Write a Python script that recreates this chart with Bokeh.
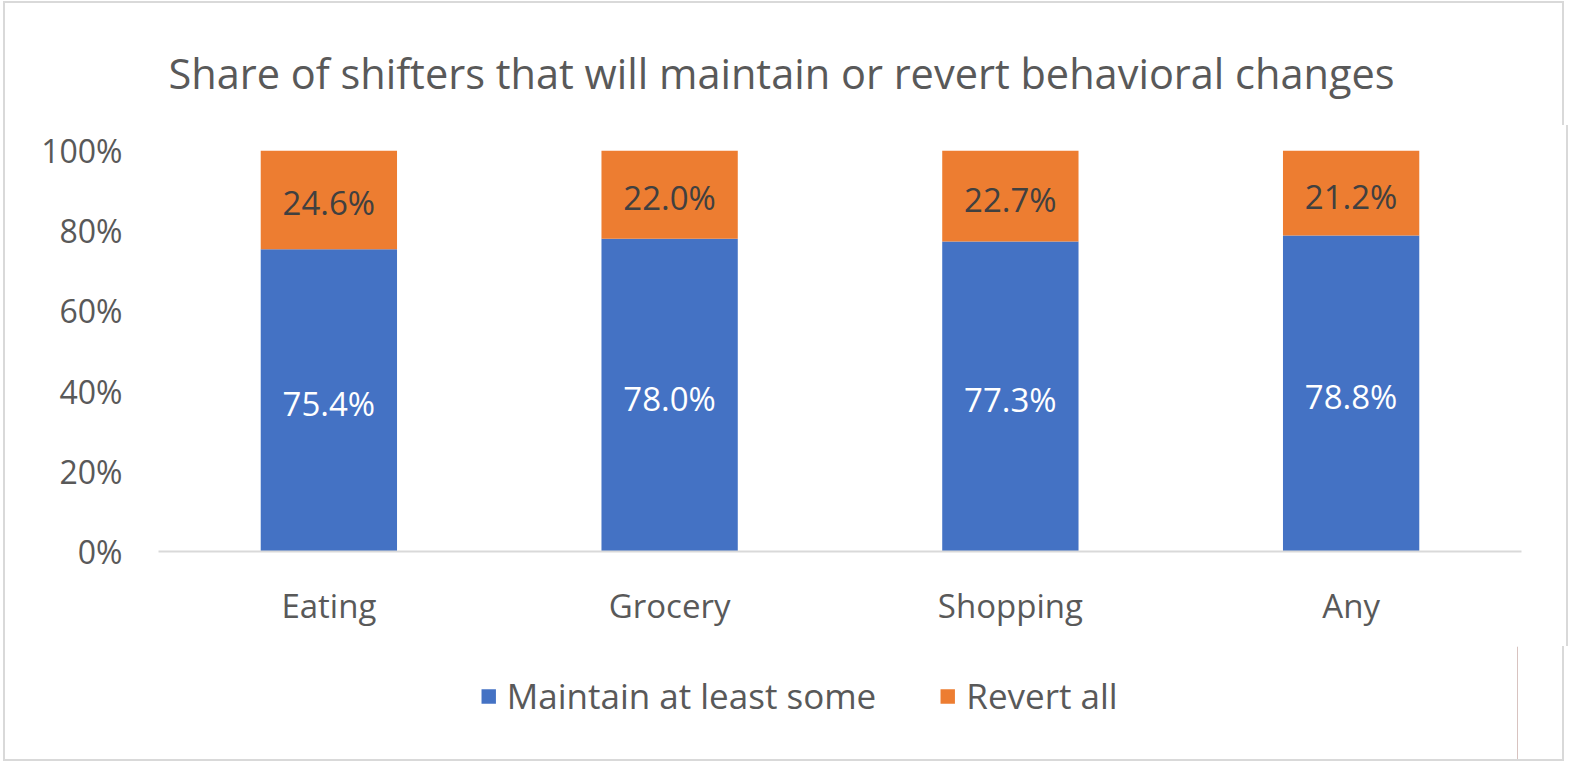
from bokeh.plotting import figure
from bokeh.layouts import column
from bokeh.models import ColumnDataSource, LabelSet, Label, Legend, LegendItem, FixedTicker, Range1d
from bokeh.embed import file_html
from bokeh.resources import INLINE
from bokeh.core.properties import value

categories = ["Eating", "Grocery", "Shopping", "Any"]
maintain = [75.4, 78.0, 77.3, 78.8]
revert = [24.6, 22.0, 22.7, 21.2]
series_names = ["Maintain at least some", "Revert all"]
title_text = "Share of shifters that will maintain or revert behavioral changes"
y_ticks = [0, 20, 40, 60, 80, 100]

FONT = "Open Sans"
GRAY = "#595959"
BLUE = "#4472C4"
ORANGE = "#ED7D31"
BORDER = "2px solid #d9d9d9"
W = 1561

src = ColumnDataSource(dict(
    cat=categories,
    maintain=maintain,
    revert=revert,
    top_all=[m + r for m, r in zip(maintain, revert)],
    mid_m=[m / 2 for m in maintain],
    mid_r=[m + r / 2 for m, r in zip(maintain, revert)],
    lab_m=[f"{m:.1f}%" for m in maintain],
    lab_r=[f"{r:.1f}%" for r in revert],
))


def bare(fig):
    fig.axis.visible = False
    fig.xgrid.grid_line_color = None
    fig.ygrid.grid_line_color = None
    fig.outline_line_color = None


# ---- title strip ----
tf = figure(width=W, height=124, x_range=Range1d(0, 1), y_range=Range1d(0, 1),
            output_backend="svg", toolbar_location=None,
            min_border_left=0, min_border_right=0, min_border_top=0, min_border_bottom=0)
bare(tf)
tf.styles = {"border": BORDER, "border-bottom": "none", "margin-left": "3px", "margin-top": "1px"}
tf.add_layout(Label(x=623, y=55, x_units="screen", y_units="screen", text=title_text,
                    text_align="center", text_baseline="middle", text_font_size="41.5px",
                    text_font=FONT, text_color=GRAY))

# ---- main chart ----
p = figure(x_range=categories, y_range=Range1d(0, 100), frame_width=1359, frame_height=401,
           output_backend="svg", toolbar_location=None,
           min_border_left=153, min_border_right=49, min_border_top=25, min_border_bottom=95)
p.styles = {"border-left": BORDER, "border-right": BORDER, "margin-left": "3px"}
p.outline_line_color = None
p.xgrid.grid_line_color = None
p.ygrid.grid_line_color = None

p.vbar(x="cat", bottom=0, top="maintain", width=0.4, source=src, fill_color=BLUE, line_color=None)
p.vbar(x="cat", bottom="maintain", top="top_all", width=0.4, source=src, fill_color=ORANGE, line_color=None)

p.add_layout(LabelSet(x="cat", y="mid_m", text="lab_m", source=src, text_align="center",
                      text_baseline="middle", text_color="white", text_font_size="33px",
                      text_font=value(FONT), y_offset=-3))
p.add_layout(LabelSet(x="cat", y="mid_r", text="lab_r", source=src, text_align="center",
                      text_baseline="middle", text_color="#404040", text_font_size="33px",
                      text_font=value(FONT), y_offset=-3))

p.yaxis.ticker = FixedTicker(ticks=y_ticks)
p.yaxis.major_label_overrides = {t: f"{t}%" for t in y_ticks}
p.yaxis.axis_line_color = None
p.yaxis.major_tick_line_color = None
p.yaxis.minor_tick_line_color = None
p.yaxis.major_label_standoff = 30
p.yaxis.major_label_text_font_size = "32px"
p.yaxis.major_label_text_font = FONT
p.yaxis.major_label_text_color = GRAY

p.xaxis.axis_line_color = "#d9d9d9"
p.xaxis.axis_line_width = 2
p.xaxis.major_tick_line_color = None
p.xaxis.minor_tick_line_color = None
p.xaxis.major_label_standoff = 25
p.xaxis.major_label_text_font_size = "33px"
p.xaxis.major_label_text_font = FONT
p.xaxis.major_label_text_color = GRAY

# ---- legend strip ----
lf = figure(width=W, height=115, x_range=Range1d(0, 1), y_range=Range1d(0, 1),
            output_backend="svg", toolbar_location=None,
            min_border_left=0, min_border_right=0, min_border_top=0, min_border_bottom=0)
bare(lf)
lf.styles = {"border": BORDER, "border-top": "none", "margin-left": "3px"}
# swatch renderers: one point each, placed outside the visible range so only the legend shows them
g1 = lf.vbar(x=[5], top=[5], width=0.4, fill_color=BLUE, line_color=None)
g2 = lf.vbar(x=[5], top=[5], width=0.4, fill_color=ORANGE, line_color=None)
legend = Legend(items=[LegendItem(label=series_names[0], renderers=[g1]),
                       LegendItem(label=series_names[1], renderers=[g2])],
                orientation="horizontal", location="top",
                label_text_font_size="35px", label_text_font=FONT, label_text_color=GRAY,
                glyph_width=18, glyph_height=18, label_standoff=10, spacing=62,
                label_width=230, padding=0, margin=26,
                border_line_color=None, background_fill_alpha=0)
lf.add_layout(legend, "center")

layout = column(tf, p, lf, spacing=0)
open("out.html", "w").write(file_html(layout, INLINE))
